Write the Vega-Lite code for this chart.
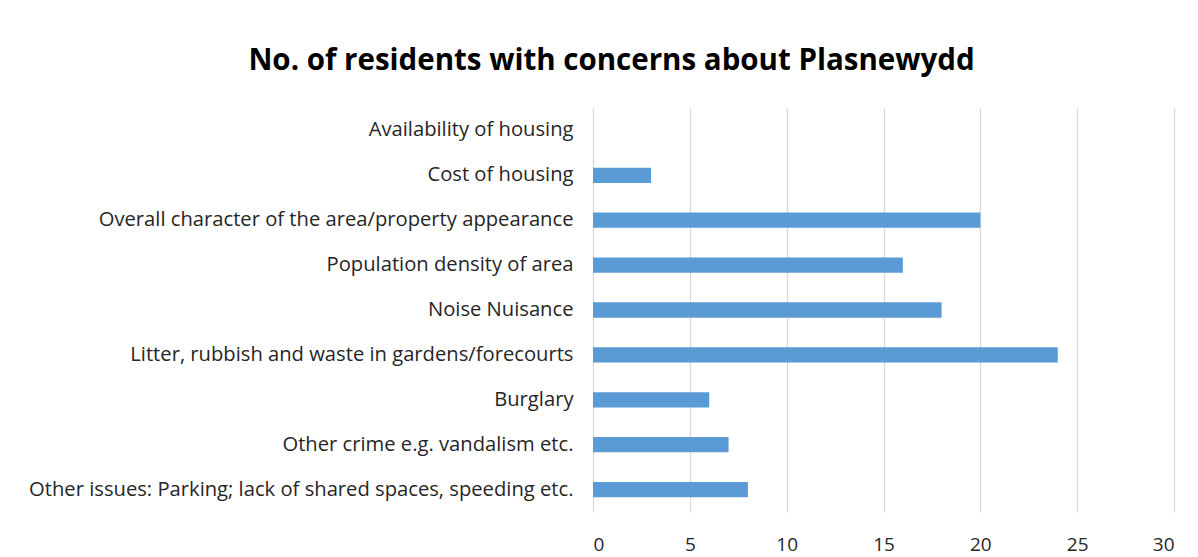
{
  "$schema": "https://vega.github.io/schema/vega-lite/v6.json",
  "width": 581,
  "height": 404,
  "autosize": {"type": "none"},
  "padding": {"left": 593, "top": 108, "right": 24, "bottom": 45},
  "background": "white",
  "title": {
    "text": "No. of residents with concerns about Plasnewydd",
    "font": "Open Sans",
    "fontSize": 29.5,
    "fontWeight": "bold",
    "color": "#000000",
    "anchor": "middle",
    "dx": -272,
    "offset": 32
  },
  "data": {
    "values": [
      {"concern": "Availability of housing", "residents": 0},
      {"concern": "Cost of housing", "residents": 3},
      {"concern": "Overall character of the area/property appearance", "residents": 20},
      {"concern": "Population density of area", "residents": 16},
      {"concern": "Noise Nuisance", "residents": 18},
      {"concern": "Litter, rubbish and waste in gardens/forecourts", "residents": 24},
      {"concern": "Burglary", "residents": 6},
      {"concern": "Other crime e.g. vandalism etc.", "residents": 7},
      {"concern": "Other issues: Parking; lack of shared spaces, speeding etc.", "residents": 8}
    ]
  },
  "mark": {"type": "bar", "color": "#5B9BD5"},
  "encoding": {
    "y": {
      "field": "concern",
      "type": "nominal",
      "sort": null,
      "title": null,
      "scale": {"paddingInner": 0.66, "paddingOuter": 0.33},
      "axis": {
        "domain": false,
        "ticks": false,
        "labelFont": "Open Sans",
        "labelFontSize": 20.2,
        "labelColor": "#262626",
        "labelPadding": 20,
        "labelLimit": 600
      }
    },
    "x": {
      "field": "residents",
      "type": "quantitative",
      "title": null,
      "scale": {"domain": [0, 30], "nice": false},
      "axis": {
        "values": [0, 5, 10, 15, 20, 25, 30],
        "domain": false,
        "ticks": false,
        "grid": true,
        "gridColor": "#D9D9D9",
        "gridWidth": 1.3,
        "labelFont": "Open Sans",
        "labelFontSize": 19,
        "labelColor": "#262626",
        "labelPadding": 23
      }
    }
  },
  "config": {"view": {"stroke": null}}
}
